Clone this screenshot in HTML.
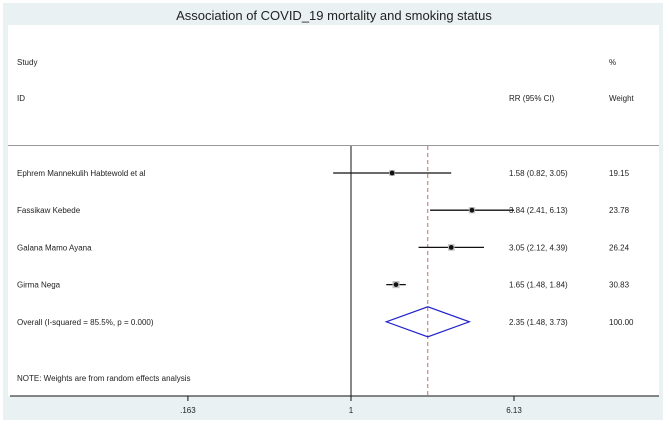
<!DOCTYPE html>
<html><head><meta charset="utf-8"><style>
body{margin:0;background:#fff;}
svg{display:block;font-family:"Liberation Sans",sans-serif;}
</style></head><body>
<svg id="chart" width="669" height="425" viewBox="0 0 669 425">
<rect x="3" y="3" width="660" height="417" fill="#eaf1f3"/>
<rect x="8" y="25" width="651" height="371" fill="#fff"/>
<text x="334" y="20" text-anchor="middle" font-size="13" fill="#222">Association of COVID_19 mortality and smoking status</text>
<text x="17" y="65" font-size="8" fill="#222">Study</text>
<text x="17" y="101" font-size="8" fill="#222">ID</text>
<text x="509" y="101" font-size="8" fill="#222">RR (95% CI)</text>
<text x="609" y="65" font-size="8" fill="#222">%</text>
<text x="609" y="101" font-size="8" fill="#222">Weight</text>
<line x1="8" y1="145.5" x2="659" y2="145.5" stroke="#999" stroke-width="1"/>
<text x="17" y="381" font-size="8" fill="#222">NOTE: Weights are from random effects analysis</text>
<g id="marks"></g>
</svg>
<script>
const studies=["Ephrem Mannekulih Habtewold et al","Fassikaw Kebede","Galana Mamo Ayana","Girma Nega"];
const rr=[1.58,3.84,3.05,1.65];
const lo=[0.82,2.41,2.12,1.48];
const hi=[3.05,6.13,4.39,1.84];
const weights=[19.15,23.78,26.24,30.83];
const overall=[2.35,1.48,3.73];
const overallLabel="Overall  (I-squared = 85.5%, p = 0.000)";
const overallWeight=100.00;
const ticks=[0.163,1,6.13];
const tickLabels=[".163","1","6.13"];

const NS="http://www.w3.org/2000/svg";
const g=document.getElementById("marks");
const x=v=>351+89.9*Math.log(v);
const rowY=i=>173+37.2*i;
function mk(t,a){const e=document.createElementNS(NS,t);for(const k in a)e.setAttribute(k,a[k]);g.appendChild(e);return e;}
function txt(s,xx,yy,a){const e=mk("text",Object.assign({x:xx,y:yy,"font-size":8,fill:"#222"},a||{}));e.textContent=s;return e;}
const f2=v=>v.toFixed(2);

let e;
e=mk("line",{x1:x(1),y1:146,x2:x(1),y2:396,stroke:"#111","stroke-width":1});


e=mk("line",{x1:x(overall[0]),y1:146,x2:x(overall[0]),y2:396,stroke:"#b04a4a","stroke-width":0.8,"stroke-dasharray":"4,3"});



studies.forEach((s,i)=>{
  const y=rowY(i);
  e=txt(s,17,y+3);
  
  
  e=mk("line",{x1:x(lo[i]),y1:y,x2:x(hi[i]),y2:y,stroke:"#111","stroke-width":1.3});
  
  
  const sz=4+weights[i]*0.1;
  e=mk("rect",{x:x(rr[i])-sz/2,y:y-sz/2,width:sz,height:sz,fill:"#c4c4c4"});
  
  
  e=mk("circle",{cx:x(rr[i]),cy:y,r:2.4,fill:"#111"});
  
  
  e=txt(f2(rr[i])+" ("+f2(lo[i])+", "+f2(hi[i])+")",509,y+3);
  
  
  e=txt(f2(weights[i]),609,y+3);
  
  
});
const oy=rowY(4);
e=txt(overallLabel,17,oy+3);


e=mk("polygon",{points:`${x(overall[1])},${oy} ${x(overall[0])},${oy-15} ${x(overall[2])},${oy} ${x(overall[0])},${oy+15}`,fill:"none",stroke:"#2222cc","stroke-width":1.2});


e=txt(f2(overall[0])+" ("+f2(overall[1])+", "+f2(overall[2])+")",509,oy+3);


e=txt(overallWeight.toFixed(2),609,oy+3);



e=mk("line",{x1:10,y1:396,x2:659,y2:396,stroke:"#111","stroke-width":1});


ticks.forEach((t,i)=>{
  e=mk("line",{x1:x(t),y1:396,x2:x(t),y2:401,stroke:"#111","stroke-width":1});
  
  
  e=txt(tickLabels[i],x(t),413,{"text-anchor":"middle"});
  
  
});
</script>
</body></html>
